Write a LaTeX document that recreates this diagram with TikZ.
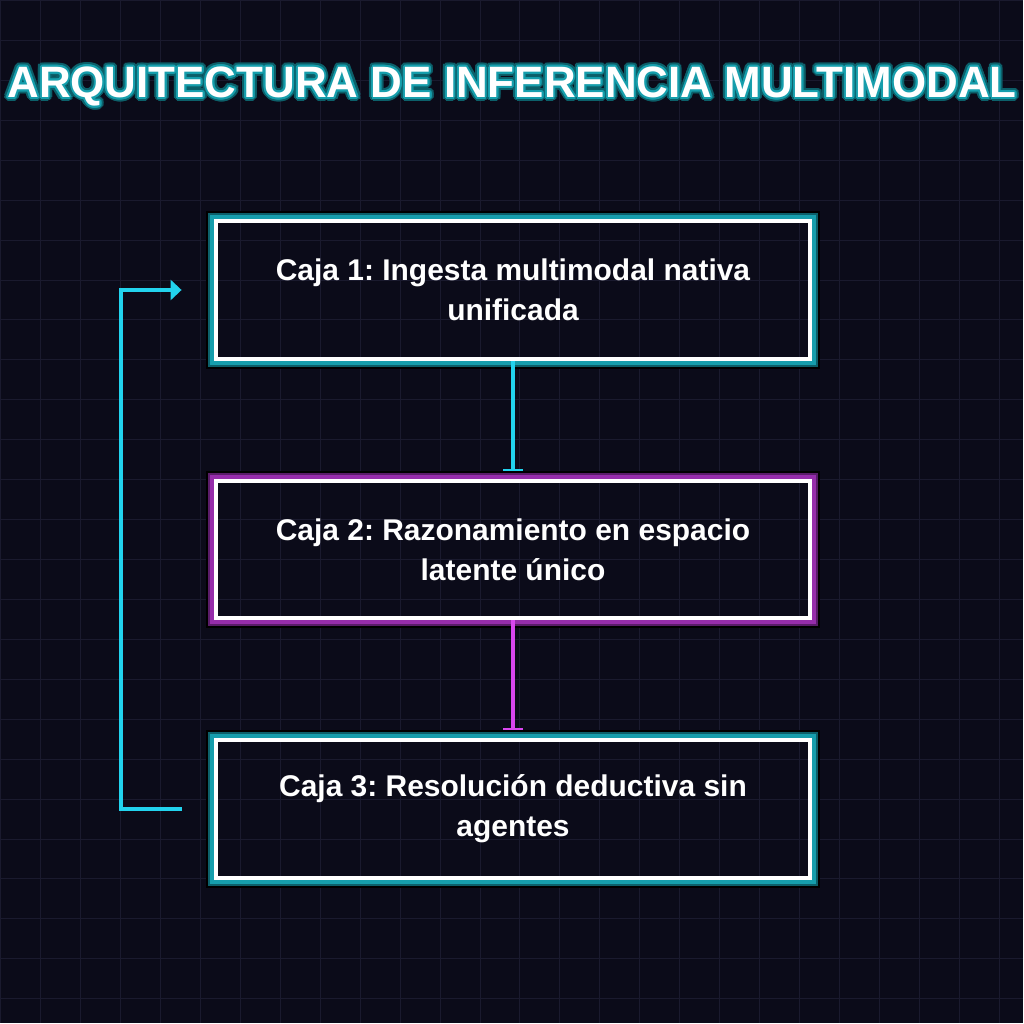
\documentclass[tikz,border=0pt]{standalone}
\usepackage{fontspec}
\setmainfont{Liberation Sans}
\frenchspacing
\usetikzlibrary{arrows.meta, positioning}
\definecolor{bgnavy}{RGB}{11,11,25}
\definecolor{gridnavy}{RGB}{26,26,46}
\definecolor{neoncyan}{RGB}{34,211,238}
\definecolor{neonpink}{RGB}{217,70,239}
\definecolor{ringteal}{RGB}{22,158,172}
\definecolor{ringtealdk}{RGB}{12,96,106}
\definecolor{ringpink}{RGB}{150,45,170}
\definecolor{ringpinkdk}{RGB}{90,28,105}

\begin{document}
\begin{tikzpicture}[
        x=1pt, y=1pt,
        node distance=118pt,
        box/.style={draw=white, line width=4pt, minimum width=596pt, minimum height=138pt,
            text width=520pt, align=flush center, text=white,
            font=\fontsize{30}{40}\selectfont\bfseries},
        heading/.style={anchor=base, font=\fontsize{44}{50}\selectfont\bfseries},
        link/.style={line width=4pt, shorten >=8pt, -{Bar[width=20pt, line width=2pt]}},
        back/.style={line width=4pt, neoncyan, -{Triangle[length=11pt, width=20pt]}}
        ]
        \fill[bgnavy] (0,-1024) rectangle (1024,0);
        \draw[gridnavy, line width=1pt] (0,-1024) grid[step=40pt] (1024,0);

        % title with glow
        \foreach \a in {0,20,...,340}
            \node[heading, text=ringtealdk, shift={(\a:4pt)}] (glowa\a) at (512,-97) {ARQUITECTURA DE INFERENCIA MULTIMODAL};
        \foreach \a in {0,30,...,330}
            \node[heading, text=ringteal, shift={(\a:2pt)}] (glowb\a) at (512,-97) {ARQUITECTURA DE INFERENCIA MULTIMODAL};
        \node[heading, text=white] (title) at (512,-97) {ARQUITECTURA DE INFERENCIA MULTIMODAL};

        \node[box] (b1) at (513,-290) {Caja 1: Ingesta multimodal nativa unificada};
        \node[box, below=of b1] (b2) {Caja 2: Razonamiento en espacio latente único};
        \node[box, below=of b2] (b3) {Caja 3: Resolución deductiva sin agentes};

        % outer rings
        \foreach \n/\c/\d in {b1/ringteal/ringtealdk, b2/ringpink/ringpinkdk, b3/ringteal/ringtealdk} {
            \draw[black, line width=2pt] ([shift={(-7pt,-7pt)}]\n.south west) rectangle ([shift={(7pt,7pt)}]\n.north east);
            \draw[\d, line width=2pt] ([shift={(-5pt,-5pt)}]\n.south west) rectangle ([shift={(5pt,5pt)}]\n.north east);
            \draw[\c, line width=4pt] ([shift={(-2pt,-2pt)}]\n.south west) rectangle ([shift={(2pt,2pt)}]\n.north east);
        }

        \draw[link, neoncyan] (b1) -- (b2);
        \draw[link, neonpink] (b2) -- (b3);
        \draw[back] ([xshift=-32pt]b3.west) -- ++(-61pt,0) |- ([xshift=-32pt]b1.west);
    \end{tikzpicture}
\end{document}
